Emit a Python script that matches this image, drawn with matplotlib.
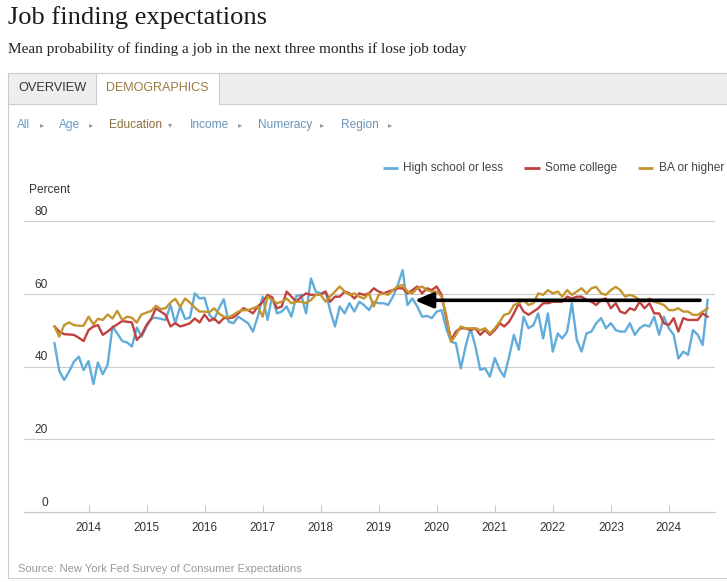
import matplotlib
matplotlib.use('Agg')
import matplotlib.pyplot as plt
import matplotlib.dates as mdates
from matplotlib.patches import Rectangle
import pandas as pd

# ---------------- data ----------------
first_month = '2013-06-01'
dates = pd.date_range(first_month, periods=136, freq='MS')

high_school = [
    46.4, 38.8, 36.3, 38.6, 41.3, 42.7, 39.0, 41.5, 35.2, 41.1, 37.9, 40.4, 51.0, 49.1, 47.0, 46.6, 45.5, 50.7,
    48.2, 51.0, 53.2, 53.4, 53.1, 52.8, 56.9, 51.9, 56.5, 53.1, 53.4, 60.1, 58.7, 58.9, 54.2, 52.8, 56.0,
    58.5, 52.3, 51.9, 53.7, 52.8, 51.9, 49.6, 53.7, 59.2, 52.8, 59.2, 54.6, 55.1, 56.5, 53.7, 59.4, 59.7,
    54.6, 64.2, 60.6, 60.1, 60.6, 55.5, 51.0, 56.5, 54.6, 57.4, 55.1, 57.8, 56.9, 55.5, 57.8, 57.4,
    57.4, 56.9, 59.2, 62.4, 66.5, 56.9, 58.7, 56.5, 53.7, 53.9, 53.3, 55.1, 55.5, 50.5, 46.8, 46.4, 39.5,
    45.5, 50.5, 45.5, 39.1, 39.5, 37.2, 42.3, 39.1, 37.2, 42.7, 48.7, 44.6, 53.7, 50.5, 51.4, 54.6,
    47.7, 54.6, 44.1, 49.1, 47.7, 49.6, 57.4, 47.3, 44.1, 49.1, 49.6, 51.9, 53.3, 50.5, 51.9, 50.0, 49.6,
    49.6, 51.9, 48.7, 50.5, 51.4, 51.0, 53.7, 48.7, 53.7, 50.5, 48.7, 42.2, 44.1, 43.2, 50.0, 48.7, 45.9, 58.3,
]
some_college = [
    51.0, 49.6, 48.9, 48.8, 48.7, 47.9, 47.0, 50.0, 51.0, 51.4, 48.7, 49.6, 50.7, 51.6, 52.5, 52.3, 52.1, 47.3,
    48.7, 51.4, 53.2, 56.0, 55.1, 54.2, 51.0, 51.9, 51.0, 51.4, 51.9, 53.2, 52.1, 54.3, 52.5, 53.2, 51.9,
    53.3, 53.3, 53.5, 54.6, 56.0, 55.5, 54.6, 56.5, 57.8, 59.7, 59.0, 56.0, 56.5, 60.6, 59.2, 57.8, 59.2,
    60.1, 59.7, 59.7, 59.7, 60.6, 57.8, 59.2, 59.2, 60.6, 60.1, 58.7, 60.1, 59.7, 60.1, 61.5, 60.6,
    60.1, 60.6, 61.0, 61.5, 61.5, 60.1, 61.0, 62.0, 60.1, 61.5, 61.0, 62.0, 59.7, 53.3, 47.3, 49.6, 50.5,
    50.5, 50.0, 50.5, 48.7, 50.0, 48.7, 50.0, 51.9, 51.0, 52.3, 54.6, 57.4, 55.1, 54.2, 55.1, 56.0,
    57.4, 57.4, 57.8, 57.8, 57.8, 59.2, 58.7, 59.2, 59.2, 58.3, 57.8, 56.9, 58.3, 58.7, 56.0, 57.4, 55.1,
    54.6, 56.0, 55.5, 57.8, 56.0, 57.4, 54.6, 54.6, 51.9, 51.4, 53.3, 49.6, 53.3, 52.8, 52.8, 52.8, 54.6, 53.7,
]
ba_or_higher = [
    51.0, 48.2, 51.4, 52.1, 51.4, 51.2, 51.2, 53.7, 51.6, 53.1, 52.8, 54.3, 53.2, 55.3, 52.8, 53.7, 53.4, 52.1,
    54.3, 54.8, 55.3, 56.7, 55.8, 56.0, 57.6, 58.6, 56.4, 58.7, 57.6, 56.2, 55.1, 55.1, 54.9, 56.0, 54.6,
    53.7, 53.5, 54.2, 55.1, 55.5, 55.5, 56.0, 56.5, 53.7, 59.2, 58.3, 57.4, 57.8, 58.7, 57.4, 57.8, 57.8,
    57.4, 58.3, 59.7, 59.7, 57.8, 59.2, 60.6, 62.0, 60.6, 59.7, 60.1, 59.2, 58.7, 60.1, 56.5, 59.7,
    60.1, 59.7, 61.0, 62.0, 62.4, 60.6, 60.1, 61.5, 62.0, 61.0, 60.6, 60.6, 59.2, 54.2, 46.8, 48.7, 51.0,
    50.5, 50.5, 50.5, 50.0, 50.5, 49.1, 50.5, 52.3, 54.2, 54.6, 56.9, 57.4, 58.3, 56.9, 57.4, 60.1,
    59.7, 61.0, 60.1, 60.6, 59.2, 61.0, 59.7, 60.6, 61.5, 60.1, 61.5, 61.9, 60.1, 59.7, 61.0, 61.9, 61.0,
    59.2, 59.7, 59.2, 58.3, 57.8, 58.7, 57.8, 57.4, 56.9, 55.5, 55.5, 56.0, 55.1, 55.1, 54.2, 54.2, 55.1, 56.0,
]

series_names = ['High school or less', 'Some college', 'BA or higher']
series_values = [high_school, some_college, ba_or_higher]
series_colors = ['#62acda', '#c0413e', '#c4942f']
year_ticks = list(range(2014, 2025))
y_ticks = [0, 20, 40, 60, 80]
filter_labels = ['All', 'Age', 'Education', 'Income', 'Numeracy', 'Region']

arrow_level = 58.2
arrow_tail = '2024-07-15'
arrow_head = '2019-08-15'

# ---------------- figure ----------------
W, H, DPI = 727, 582, 100
fig = plt.figure(figsize=(W / DPI, H / DPI), dpi=DPI)
fig.patch.set_facecolor('white')
renderer = fig.canvas.get_renderer()

bg = fig.add_axes([0, 0, 1, 1], zorder=0)
bg.set_xlim(0, W)
bg.set_ylim(H, 0)
bg.axis('off')

SANS = ['Liberation Sans', 'DejaVu Sans']
BORDER = '#cccccc'


def txt(x, y, s, target_w=None, size=9, color='#333333', family=SANS, ha='left', va='center', **kw):
    t = bg.text(x, y, s, fontsize=size, color=color, family=family, ha=ha, va=va, **kw)
    if target_w:
        w = t.get_window_extent(renderer).width
        t.set_fontsize(size * target_w / w)
    return t


# title / subtitle
txt(8, 18, 'Job finding expectations', 259, 17, '#1a1a1a', ['Liberation Serif'])
txt(8, 49, 'Mean probability of finding a job in the next three months if lose job today',
    458, 10.5, '#222222', ['Liberation Serif'])

# outer box + tab bar
bg.add_patch(Rectangle((8, 73), W, 31, facecolor='#eeeeee', edgecolor='none'))
bg.add_patch(Rectangle((96, 73), 123, 32, facecolor='white', edgecolor='none'))
bg.plot([8, W], [73, 73], color=BORDER, lw=0.8)
bg.plot([8, 8], [73, 578], color=BORDER, lw=0.8)
bg.plot([8, W], [578, 578], color=BORDER, lw=0.8)
bg.plot([96, 96], [73, 104], color=BORDER, lw=0.8)
bg.plot([219, 219], [73, 104], color=BORDER, lw=0.8)
bg.plot([8, 96], [104, 104], color=BORDER, lw=0.8)
bg.plot([219, W], [104, 104], color=BORDER, lw=0.8)
txt(18, 88, 'OVERVIEW', 68, 9, '#333333')
txt(106, 88, 'DEMOGRAPHICS', 103, 9, '#9a7b3f')

# filter row
filter_x = [17, 59, 109, 190, 258, 341]
filter_colors = ['#5f9fd0', '#5f9fd0', '#8c6f3f', '#6b93b6', '#6b93b6', '#6b93b6']
marker_x = [42, 91, 170, 240, 322, 390]
for lab, x0, c, mx in zip(filter_labels, filter_x, filter_colors, marker_x):
    txt(x0, 125, lab, None, 8.6, c)
    txt(mx, 125, '▾' if lab == 'Education' else '▸', None, 6, '#999999',
        ['DejaVu Sans'], ha='center')

# legend
leg_line = [(383, 398), (524, 540), (638, 653)]
leg_text_x = [403, 545, 659]
for name, c, (a, b), tx in zip(series_names, series_colors, leg_line, leg_text_x):
    bg.plot([a, b], [168, 168], color=c, lw=2.0, solid_capstyle='butt')
    txt(tx, 168, name, None, 8.6, '#444444')

txt(29, 190, 'Percent', 41, 8.5, '#333333')
txt(18, 569, 'Source: New York Fed Survey of Consumer Expectations', 284, 8, '#999999')

# ---------------- main chart ----------------
x_left, x_right, y_top, y_bot = 24, 715, 221, 512
ax = fig.add_axes([x_left / W, (H - y_bot) / H, (x_right - x_left) / W, (y_bot - y_top) / H], zorder=1)
ax.patch.set_alpha(0)

jan14 = pd.Timestamp('2014-01-01')
px_per_year = 58.04
days_per_px = 365.25 / px_per_year
xmin = jan14 - pd.Timedelta(days=(88.5 - x_left) * days_per_px)
xmax = jan14 + pd.Timedelta(days=(x_right - 88.5) * days_per_px)
ax.set_xlim(xmin, xmax)
ax.set_ylim(0, 80)

for vals, c in zip(series_values, series_colors):
    ax.plot(dates, vals, color=c, lw=1.7, solid_joinstyle='round', zorder=3)

ax.annotate('', xy=(pd.Timestamp(arrow_head), arrow_level), xytext=(pd.Timestamp(arrow_tail), arrow_level),
            arrowprops=dict(arrowstyle='-|>,head_length=1.0,head_width=0.42', mutation_scale=11,
                            lw=2.6, color='black', shrinkA=0, shrinkB=0), zorder=5)

for s in ['top', 'right', 'left']:
    ax.spines[s].set_visible(False)
ax.spines['bottom'].set_color('#c8c8c8')
ax.spines['bottom'].set_linewidth(0.8)

ax.set_yticks(y_ticks)
ax.set_yticklabels([])
ax.tick_params(axis='y', length=0)
ax.grid(axis='y', color='#cccccc', lw=0.8)
ax.set_axisbelow(True)
for v in y_ticks:
    ax.annotate(str(v), xy=(24 / (x_right - x_left), v), xycoords=('axes fraction', 'data'),
                xytext=(0, 3), textcoords='offset pixels', ha='right', va='bottom',
                fontsize=8.6, color='#333333', family=SANS)

ax.set_xticks([pd.Timestamp(f'{y}-01-01') for y in year_ticks])
ax.xaxis.set_major_formatter(mdates.DateFormatter('%Y'))
ax.tick_params(axis='x', direction='in', length=5, width=0.8, color='#c8c8c8',
               pad=7, labelsize=8.4, labelcolor='#333333')
for lab in ax.get_xticklabels():
    lab.set_family(SANS)

fig.savefig('out.png', dpi=DPI, facecolor='white')
